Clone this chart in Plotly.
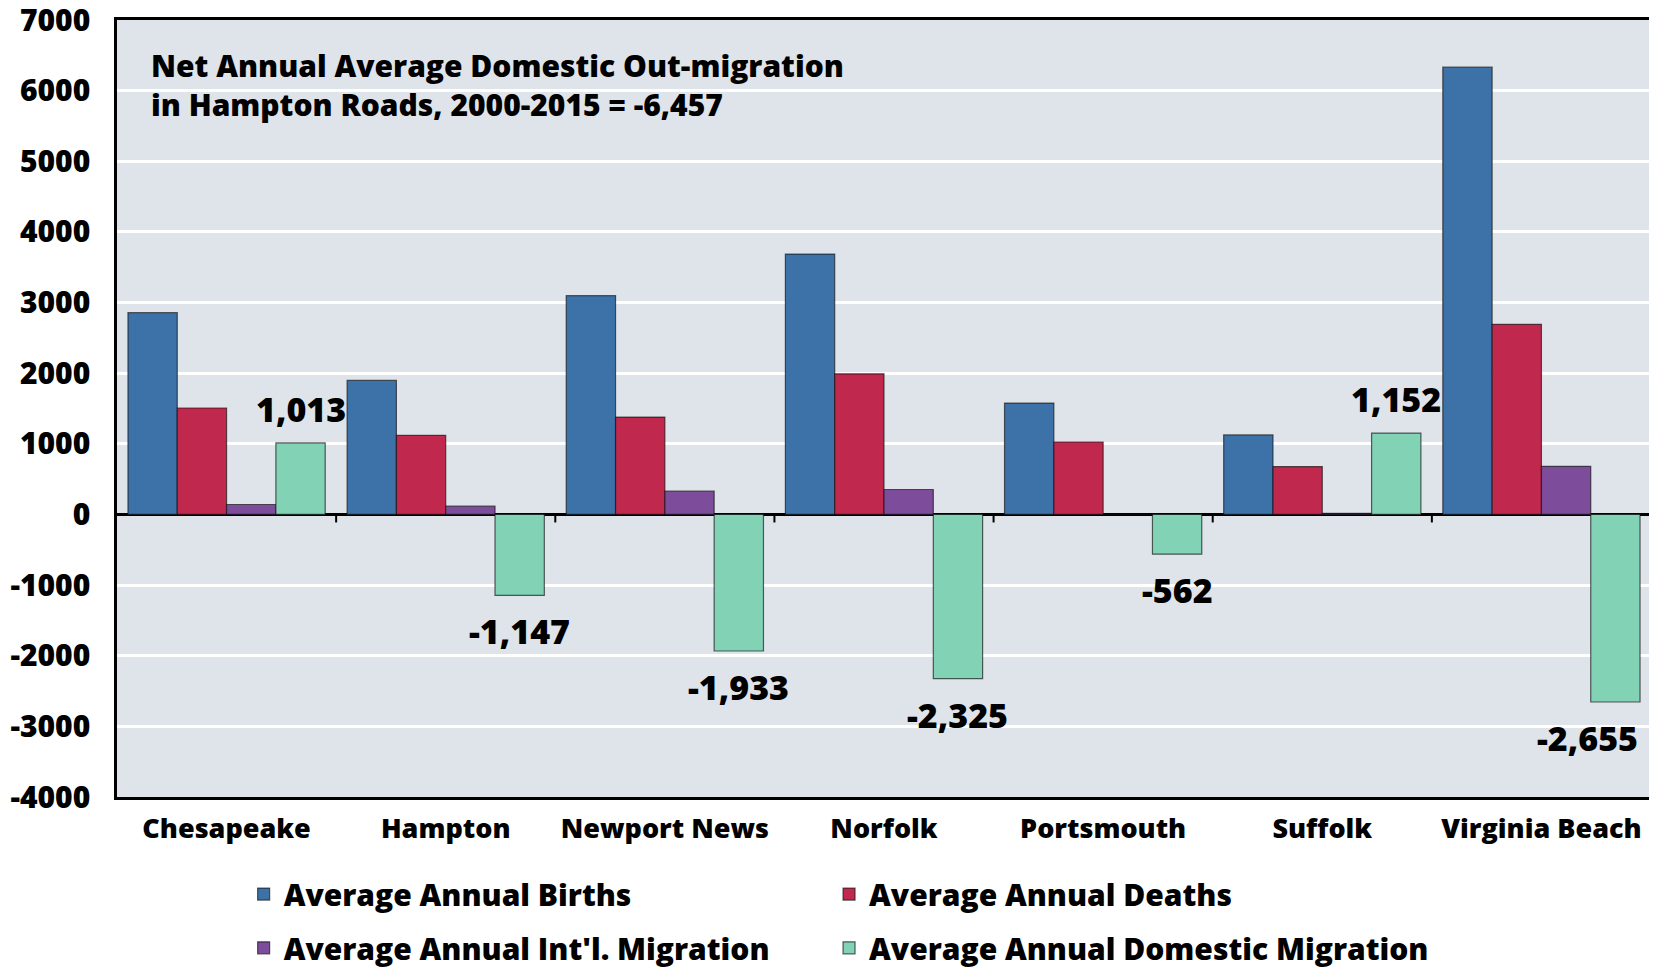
import plotly.graph_objects as go

categories = ["Chesapeake", "Hampton", "Newport News", "Norfolk", "Portsmouth", "Suffolk", "Virginia Beach"]
births = [2857, 1897, 3097, 3686, 1577, 1126, 6332]
deaths = [1507, 1120, 1379, 1991, 1026, 678, 2692]
intl_migration = [141, 117, 329, 353, 0, 15, 682]
domestic_migration = [1013, -1147, -1933, -2325, -562, 1152, -2655]

series_names = ["Average Annual Births", "Average Annual Deaths",
                "Average Annual Int'l. Migration", "Average Annual Domestic Migration"]
series_values = [births, deaths, intl_migration, domestic_migration]
colors = ["#3D72A8", "#C0284D", "#7D4C9B", "#82D2B5"]
legend_ids = ["legend", "legend2", "legend3", "legend4"]

y_tickvals = [-4000, -3000, -2000, -1000, 0, 1000, 2000, 3000, 4000, 5000, 6000, 7000]
y_ticktext = ["-4000", "-3000", "-2000", "-1000", "0", "1000", "2000", "3000", "4000", "5000", "6000", "7000"]

title_text = "Net Annual Average Domestic Out-migration<br>in Hampton Roads, 2000-2015 = -6,457"

FONT = "'Open Sans', Lato, 'DejaVu Sans', sans-serif"
W = 800
BARGAP = 0.1

fig = go.Figure()
for name, vals, col, lg in zip(series_names, series_values, colors, legend_ids):
    fig.add_trace(go.Bar(
        x=categories, y=vals, name=name, legend=lg,
        marker=dict(color=col, line=dict(color="rgba(15,15,15,0.65)", width=1.2)),
    ))

# data labels for domestic migration
n_series = len(series_values)
bar_w = (1 - BARGAP) / n_series
offset = -(1 - BARGAP) / 2 + bar_w * (n_series - 0.5)
label_xshift = [0, 0, 0, 0, 0, 0, -28]
for i, v in enumerate(domestic_migration):
    fig.add_annotation(
        x=i + offset, y=v, xref="x", yref="y",
        text=f"{v:,}", showarrow=False,
        yshift=34 if v > 0 else -36, xshift=label_xshift[i],
        font=dict(family=FONT, size=34, color="black", weight=W),
    )

fig.add_annotation(
    x=0.0209, y=0.9163, xref="paper", yref="paper", xanchor="left", yanchor="middle",
    text=title_text, showarrow=False, align="left",
    font=dict(family=FONT, size=30, color="black", weight=W),
)

# small tick marks at category boundaries, hanging below the zero line
for i in range(1, len(categories)):
    fig.add_shape(type="line", xref="x", yref="y", x0=i - 0.5, x1=i - 0.5,
                  ysizemode="pixel", yanchor=0, y0=0, y1=-8,
                  line=dict(color="black", width=2))

legend_style = dict(orientation="h", xref="container", yref="container",
                    xanchor="left", yanchor="middle",
                    font=dict(size=30, weight=W), bgcolor="rgba(0,0,0,0)")
col_x = [0.1429, 0.4979]
row_y = [0.077, 0.021]

fig.update_layout(
    width=1649, height=960,
    margin=dict(l=109, r=6, t=12, b=171, autoexpand=False),
    paper_bgcolor="white", plot_bgcolor="#DEE4EA",
    barmode="group", bargap=BARGAP, bargroupgap=0,
    font=dict(family=FONT, color="black"),
    legend=dict(legend_style, x=col_x[0], y=row_y[0]),
    legend2=dict(legend_style, x=col_x[1], y=row_y[0]),
    legend3=dict(legend_style, x=col_x[0], y=row_y[1]),
    legend4=dict(legend_style, x=col_x[1], y=row_y[1]),
    showlegend=True,
)
fig.update_xaxes(
    automargin=False,
    showline=True, linecolor="black", linewidth=2.5, mirror=True,
    showgrid=False, ticks="", ticklabelstandoff=6,
    tickfont=dict(size=27, weight=W),
)
fig.update_yaxes(
    automargin=False, ticklabeloverflow="allow",
    range=[-4000, 7000], tickvals=y_tickvals, ticktext=y_ticktext,
    showline=True, linecolor="black", linewidth=2.5, mirror=True,
    showgrid=True, gridcolor="white", gridwidth=3,
    zeroline=True, zerolinecolor="black", zerolinewidth=3,
    ticks="", ticklabelstandoff=18,
    tickfont=dict(size=30, weight=W),
)

fig.write_html("out.html")
